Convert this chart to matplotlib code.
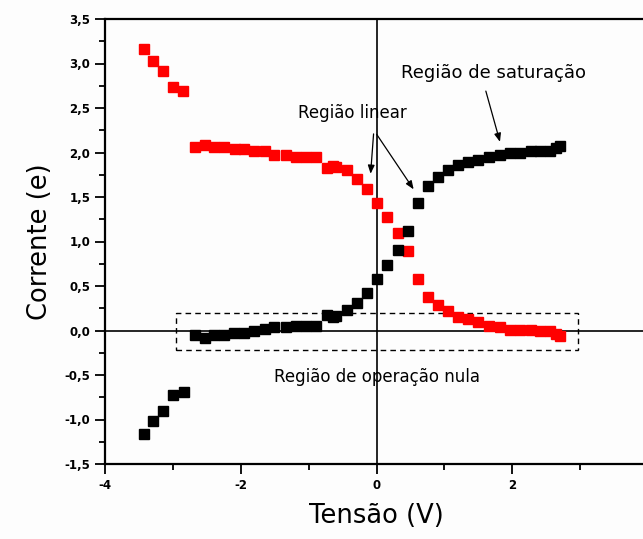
import numpy as np
import matplotlib
matplotlib.use('Agg')
import matplotlib.pyplot as plt
from matplotlib.ticker import MultipleLocator, FixedLocator, FuncFormatter
from matplotlib.patches import Rectangle

# red series (Tensão, Corrente)
red_x = [-3.42, -3.30, -3.15, -3.00, -2.85, -2.68, -2.53, -2.39, -2.24, -2.09,
         -1.95, -1.80, -1.65, -1.51, -1.33, -1.18, -1.04, -0.89, -0.73, -0.64,
         -0.60, -0.44, -0.29, -0.14, 0.01, 0.16, 0.32, 0.47, 0.61, 0.76,
         0.91, 1.06, 1.20, 1.35, 1.50, 1.66, 1.82, 1.97, 2.12, 2.27,
         2.41, 2.56, 2.64, 2.71]
red_y = [3.16, 3.03, 2.92, 2.74, 2.69, 2.06, 2.08, 2.06, 2.06, 2.04,
         2.04, 2.02, 2.02, 1.97, 1.97, 1.95, 1.95, 1.95, 1.83, 1.85,
         1.84, 1.80, 1.70, 1.59, 1.43, 1.27, 1.09, 0.89, 0.58, 0.38,
         0.29, 0.22, 0.15, 0.13, 0.10, 0.05, 0.04, 0.01, 0.01, 0.01,
         0.00, 0.00, -0.04, -0.06]

# black series
blk_x = [-3.42, -3.30, -3.15, -3.00, -2.84, -2.68, -2.53, -2.39, -2.24, -2.10,
         -1.95, -1.80, -1.65, -1.51, -1.33, -1.18, -1.04, -0.89, -0.73, -0.64,
         -0.60, -0.44, -0.29, -0.14, 0.01, 0.16, 0.32, 0.47, 0.61, 0.76,
         0.91, 1.06, 1.20, 1.35, 1.50, 1.66, 1.82, 1.97, 2.12, 2.27,
         2.41, 2.56, 2.64, 2.71]
blk_y = [-1.16, -1.02, -0.91, -0.73, -0.69, -0.05, -0.08, -0.05, -0.05, -0.03,
         -0.03, -0.01, 0.02, 0.04, 0.04, 0.05, 0.05, 0.05, 0.17, 0.15,
         0.16, 0.23, 0.31, 0.42, 0.58, 0.74, 0.91, 1.12, 1.43, 1.62,
         1.73, 1.80, 1.86, 1.89, 1.92, 1.95, 1.97, 1.99, 1.99, 2.02,
         2.02, 2.02, 2.05, 2.07]

x_ticks = [-4, -2, 0, 2]
x_minor = [-3, -1, 1, 3]

fig = plt.figure(figsize=(6.43, 5.39), dpi=100)
fig.patch.set_facecolor('#fdfdfd')
# axes run past the right edge, like the cropped original
ax = fig.add_axes([105 / 643, 75 / 539, 543 / 643, 445 / 539])
ax.set_facecolor('#fdfdfd')

ax.axhline(0, color='black', lw=1.2, zorder=1)
ax.axvline(0, color='black', lw=1.2, zorder=1)

ax.plot(red_x, red_y, 's', color='red', ms=7, mec='red', zorder=3)
ax.plot(blk_x, blk_y, 's', color='black', ms=7, mec='black', zorder=3)

# dashed box around zero-operation region
ax.add_patch(Rectangle((-2.95, -0.22), 5.92, 0.42, fill=False, ls=(0, (4, 3)),
                       lw=1.0, ec='black', zorder=2))

txt = dict(family='DejaVu Sans', ha='center', va='center')
ax.text(0.0, -0.52, 'Região de operação nula', fontsize=12, **txt)
ax.text(-0.35, 2.44, 'Região linear', fontsize=12, **txt)
ax.text(1.72, 2.89, 'Região de saturação', fontsize=13, **txt)

arr = dict(arrowstyle='-|>,head_length=0.5,head_width=0.2', color='black', lw=0.9)
ax.annotate('', xy=(-0.09, 1.73), xytext=(-0.04, 2.24), arrowprops=arr)
ax.annotate('', xy=(0.57, 1.56), xytext=(-0.02, 2.23), arrowprops=arr)
ax.annotate('', xy=(1.83, 2.09), xytext=(1.60, 2.72), arrowprops=arr)

ax.set_xlim(-4, 4)
ax.set_ylim(-1.5, 3.5)
ax.xaxis.set_major_locator(FixedLocator(x_ticks))
ax.xaxis.set_minor_locator(FixedLocator(x_minor))
ax.yaxis.set_major_locator(MultipleLocator(0.5))
ax.yaxis.set_minor_locator(MultipleLocator(0.25))
ax.yaxis.set_major_formatter(FuncFormatter(lambda v, p: f'{v:.1f}'.replace('.', ',')))
ax.xaxis.set_major_formatter(FuncFormatter(lambda v, p: f'{v:.0f}'))

ax.tick_params(which='both', direction='out', width=1.3, labelsize=8.5)
ax.tick_params(which='major', length=7)
ax.tick_params(which='minor', length=4)
ax.tick_params(axis='y', which='major', right=True)
for lab in ax.get_xticklabels() + ax.get_yticklabels():
    lab.set_fontweight('bold')

for s in ax.spines.values():
    s.set_linewidth(1.6)

ax.set_xlabel('Tensão (V)', fontsize=18.5, labelpad=8)
ax.set_ylabel('Corrente (e)', fontsize=18.5, labelpad=8)

fig.savefig('out.png', dpi=100)
